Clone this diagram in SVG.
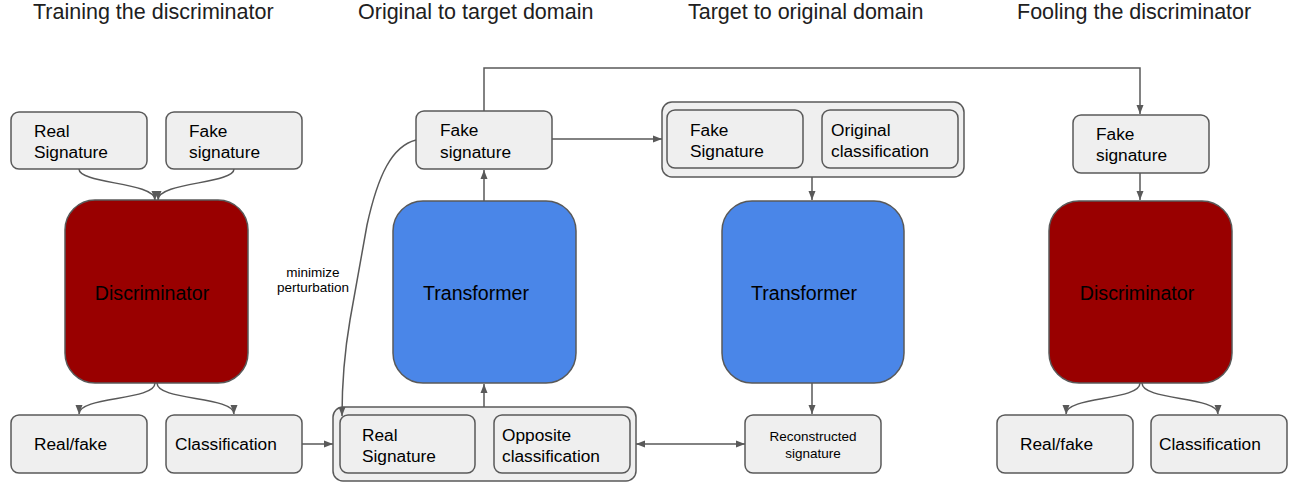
<svg xmlns="http://www.w3.org/2000/svg" width="1294" height="485" viewBox="0 0 1294 485">
<style>
.title{font-family:"Liberation Sans",Arial,sans-serif;font-size:21.5px;fill:#202020}
.t{font-family:"Liberation Sans",Arial,sans-serif;font-size:17.3px;fill:#000}
.big{font-family:"Liberation Sans",Arial,sans-serif;font-size:19.6px;fill:#000}
.sm{font-family:"Liberation Sans",Arial,sans-serif;font-size:13.5px;fill:#000}
.box{fill:#efefef;stroke:#595959;stroke-width:1.5}
.disc{fill:#990000;stroke:#595959;stroke-width:1.5}
.trans{fill:#4a86e8;stroke:#595959;stroke-width:1.5}
.ln{fill:none;stroke:#595959;stroke-width:1.5}
.arr{fill:none;stroke:#595959;stroke-width:1.5;marker-end:url(#ah)}
</style>
<defs>
<marker id="ah" markerUnits="userSpaceOnUse" markerWidth="10" markerHeight="8" refX="9" refY="4" orient="auto-start-reverse">
<path d="M0,0.5 L9,4 L0,7.5 z" fill="#595959"/>
</marker>
</defs>
<rect width="1294" height="485" fill="#fff"/>
<g id="titles">
<text class="title" x="33" y="19">Training the discriminator</text>
<text class="title" x="358" y="19">Original to target domain</text>
<text class="title" x="688" y="19">Target to original domain</text>
<text class="title" x="1017" y="19">Fooling the discriminator</text>
</g>
<g id="real-sig-1"><rect class="box" x="11" y="112" width="136" height="57" rx="8"/><text class="t" x="34" y="137">Real</text><text class="t" x="34" y="158">Signature</text></g>
<g id="fake-sig-1"><rect class="box" x="166" y="112" width="136" height="57" rx="8"/><text class="t" x="189" y="137">Fake</text><text class="t" x="189" y="158">signature</text></g>
<g id="discriminator-1"><rect class="disc" x="65" y="200" width="183" height="183" rx="30"/><text class="big" x="152" y="300" text-anchor="middle">Discriminator</text></g>
<g id="realfake-1"><rect class="box" x="11" y="415" width="136" height="58" rx="8"/><text class="t" x="34" y="450">Real/fake</text></g>
<g id="class-1"><rect class="box" x="166" y="415" width="136" height="58" rx="8"/><text class="t" x="175" y="450">Classification</text></g>
<g id="group-input"><rect class="box" x="333" y="407" width="303" height="74" rx="10"/></g>
<g id="real-sig-2"><rect class="box" x="340" y="415" width="135" height="58" rx="8"/><text class="t" x="362" y="441">Real</text><text class="t" x="362" y="462">Signature</text></g>
<g id="opp-class"><rect class="box" x="494" y="415" width="136" height="58" rx="8"/><text class="t" x="502" y="441">Opposite</text><text class="t" x="502" y="462">classification</text></g>
<g id="transformer-1"><rect class="trans" x="393" y="201" width="183" height="182" rx="30"/><text class="big" x="476" y="300" text-anchor="middle">Transformer</text></g>
<g id="fake-sig-2"><rect class="box" x="416" y="111" width="136" height="58" rx="8"/><text class="t" x="440" y="136">Fake</text><text class="t" x="440" y="158">signature</text></g>
<g id="group-fake"><rect class="box" x="662" y="102" width="302" height="75" rx="10"/></g>
<g id="fake-sig-3"><rect class="box" x="667" y="110" width="136" height="58" rx="8"/><text class="t" x="690" y="136">Fake</text><text class="t" x="690" y="157">Signature</text></g>
<g id="orig-class"><rect class="box" x="822" y="110" width="136" height="58" rx="8"/><text class="t" x="831" y="136">Original</text><text class="t" x="831" y="157">classification</text></g>
<g id="transformer-2"><rect class="trans" x="722" y="201" width="182" height="182" rx="30"/><text class="big" x="804" y="300" text-anchor="middle">Transformer</text></g>
<g id="reconstructed"><rect class="box" x="745" y="415" width="136" height="58" rx="8"/><text class="sm" x="813" y="441" text-anchor="middle">Reconstructed</text><text class="sm" x="813" y="458" text-anchor="middle">signature</text></g>
<g id="fake-sig-4"><rect class="box" x="1073" y="115" width="136" height="58" rx="8"/><text class="t" x="1096" y="140">Fake</text><text class="t" x="1096" y="161">signature</text></g>
<g id="discriminator-2"><rect class="disc" x="1049" y="201" width="183" height="182" rx="30"/><text class="big" x="1137" y="300" text-anchor="middle">Discriminator</text></g>
<g id="realfake-2"><rect class="box" x="997" y="415" width="136" height="58" rx="8"/><text class="t" x="1020" y="450">Real/fake</text></g>
<g id="class-2"><rect class="box" x="1151" y="415" width="136" height="58" rx="8"/><text class="t" x="1159" y="450">Classification</text></g>
<g id="connectors">
<path class="arr" d="M79,169 C79,184 155,182 155,200"/>
<path class="arr" d="M234,169 C234,184 158,182 158,200"/>
<path class="arr" d="M155,383 C155,401 79,396 79,414"/>
<path class="arr" d="M157,383 C157,401 234,396 234,414"/>
<path class="arr" d="M302,444 L333,444"/>
<path class="arr" d="M484,407 L484,384"/>
<path class="arr" d="M484,201 L484,170"/>
<path class="arr" d="M552,139 L662,139"/>
<path class="arr" d="M484,111 L484,68 L1140,68 L1140,114"/>
<path class="arr" d="M416,140 C392,146 378,175 367,225 L350,320 C344,355 342,390 342,416"/>
<path class="arr" d="M636,444 L745,444" style="marker-start:url(#ah)"/>
<path class="arr" d="M812,177 L812,200"/>
<path class="arr" d="M812,383 L812,414"/>
<path class="arr" d="M1140,173 L1140,200"/>
<path class="arr" d="M1140,383 C1140,401 1066,396 1066,414"/>
<path class="arr" d="M1142,383 C1142,401 1218,396 1218,414"/>
<text class="sm" x="313" y="277" text-anchor="middle">minimize</text>
<text class="sm" x="313" y="292" text-anchor="middle">perturbation</text>
</g>
</svg>
